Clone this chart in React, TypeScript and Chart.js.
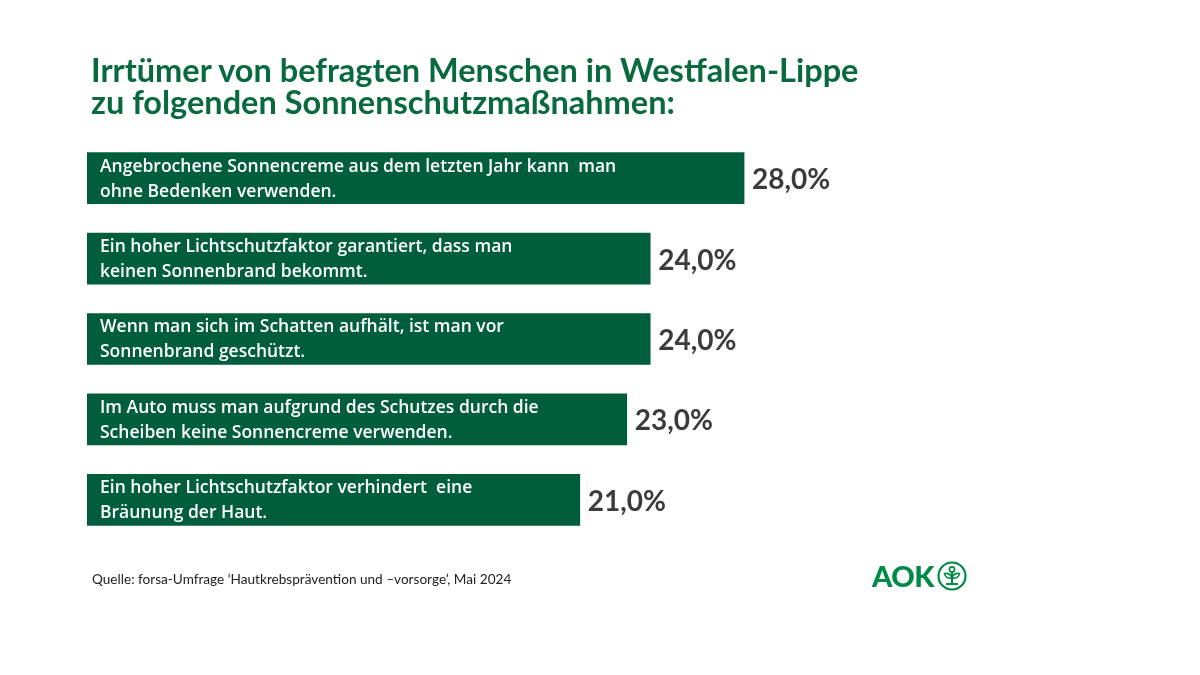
import React, { useEffect, useRef } from "react";
import { Chart, registerables } from "chart.js";

Chart.register(...registerables);

const titleLines = [
  "Irrtümer von befragten Menschen in Westfalen-Lippe",
  "zu folgenden Sonnenschutzmaßnahmen:",
];

const categories: string[][] = [
  ["Angebrochene Sonnencreme aus dem letzten Jahr kann  man", "ohne Bedenken verwenden."],
  ["Ein hoher Lichtschutzfaktor garantiert, dass man", "keinen Sonnenbrand bekommt."],
  ["Wenn man sich im Schatten aufhält, ist man vor", "Sonnenbrand geschützt."],
  ["Im Auto muss man aufgrund des Schutzes durch die", "Scheiben keine Sonnencreme verwenden."],
  ["Ein hoher Lichtschutzfaktor verhindert  eine", "Bräunung der Haut."],
];

const values = [28, 24, 24, 23, 21];

const sourceText = "Quelle: forsa-Umfrage \u2018Hautkrebsprävention und \u2013vorsorge\u2019, Mai 2024";

const GREEN = "#005e3d";

const fmt = (v: number) => v.toFixed(1).replace(".", ",") + "%";

const labelPlugin = {
  id: "barLabels",
  afterDatasetsDraw(chart: any) {
    const ctx = chart.ctx;
    const meta = chart.getDatasetMeta(0);
    ctx.save();
    meta.data.forEach((bar: any, i: number) => {
      const lines = categories[i];
      ctx.fillStyle = "#ffffff";
      ctx.font = "600 17.5px 'Open Sans', Lato, sans-serif";
      ctx.textAlign = "left";
      ctx.textBaseline = "middle";
      ctx.fillText(lines[0], bar.base + 13, bar.y - 11.5);
      ctx.fillText(lines[1], bar.base + 13, bar.y + 13.5);
      ctx.fillStyle = "#3b3b3b";
      ctx.font = "bold 28px Lato, 'Open Sans', sans-serif";
      ctx.fillText(fmt(values[i]), bar.x + 8, bar.y + 2);
    });
    ctx.restore();
  },
};

export default function App() {
  const ref = useRef<HTMLCanvasElement | null>(null);

  useEffect(() => {
    if (!ref.current) return;
    const chart = new Chart(ref.current, {
      type: "bar",
      data: {
        labels: categories.map((c) => c.join(" ")),
        datasets: [
          {
            data: values,
            backgroundColor: GREEN,
            borderWidth: 0,
            barThickness: 51,
          },
        ],
      },
      options: {
        indexAxis: "y",
        responsive: false,
        animation: false,
        layout: { padding: { left: 87, right: 409, top: 138, bottom: 135 } },
        scales: {
          x: { display: false, min: 0, max: 30 },
          y: { display: false },
        },
        plugins: {
          legend: { display: false },
          tooltip: { enabled: false },
        },
      },
      plugins: [labelPlugin],
    });
    return () => chart.destroy();
  }, []);

  return (
    <div
      style={{
        position: "fixed",
        left: 0,
        top: 0,
        width: 1200,
        height: 675,
        background: "#ffffff",
        overflow: "hidden",
      }}
    >
      <canvas
        ref={ref}
        width={1200}
        height={675}
        style={{ position: "absolute", left: 0, top: 0, width: 1200, height: 675 }}
      />
      <div
        style={{
          position: "absolute",
          left: 91,
          top: 54,
          fontFamily: "Lato, 'Open Sans', sans-serif",
          fontWeight: 700,
          fontSize: 32.5,
          lineHeight: "32px",
          color: "#0a6a3f",
          whiteSpace: "nowrap",
        }}
      >
        {titleLines.map((l, i) => (
          <div key={i}>{l}</div>
        ))}
      </div>
      <div
        style={{
          position: "absolute",
          left: 92,
          top: 571,
          fontFamily: "Lato, 'Open Sans', sans-serif",
          fontSize: 13.6,
          color: "#222222",
          whiteSpace: "nowrap",
        }}
      >
        {sourceText}
      </div>
      <div
        style={{
          position: "absolute",
          left: 872,
          top: 558,
          display: "flex",
          alignItems: "center",
          color: "#008a48",
        }}
      >
        <span
          style={{
            fontFamily: "Lato, 'Open Sans', sans-serif",
            fontWeight: 900,
            fontSize: 29,
            letterSpacing: -0.5,
          }}
        >
          AOK
        </span>
        <svg width="32" height="32" viewBox="0 0 32 32" style={{ marginLeft: 2 }}>
          <circle cx="16" cy="16" r="13.5" fill="none" stroke="#008a48" strokeWidth="2.2" />
          <line x1="16" y1="12" x2="16" y2="24" stroke="#008a48" strokeWidth="2" />
          <line x1="10" y1="24" x2="22" y2="24" stroke="#008a48" strokeWidth="2" />
          <circle cx="16" cy="9.5" r="2.6" fill="none" stroke="#008a48" strokeWidth="1.6" />
          <path d="M16 18 C12 19 9 17 8.5 13.5 C12 13 15 15 16 18 Z" fill="none" stroke="#008a48" strokeWidth="1.6" />
          <path d="M16 18 C20 19 23 17 23.5 13.5 C20 13 17 15 16 18 Z" fill="none" stroke="#008a48" strokeWidth="1.6" />
        </svg>
      </div>
    </div>
  );
}
